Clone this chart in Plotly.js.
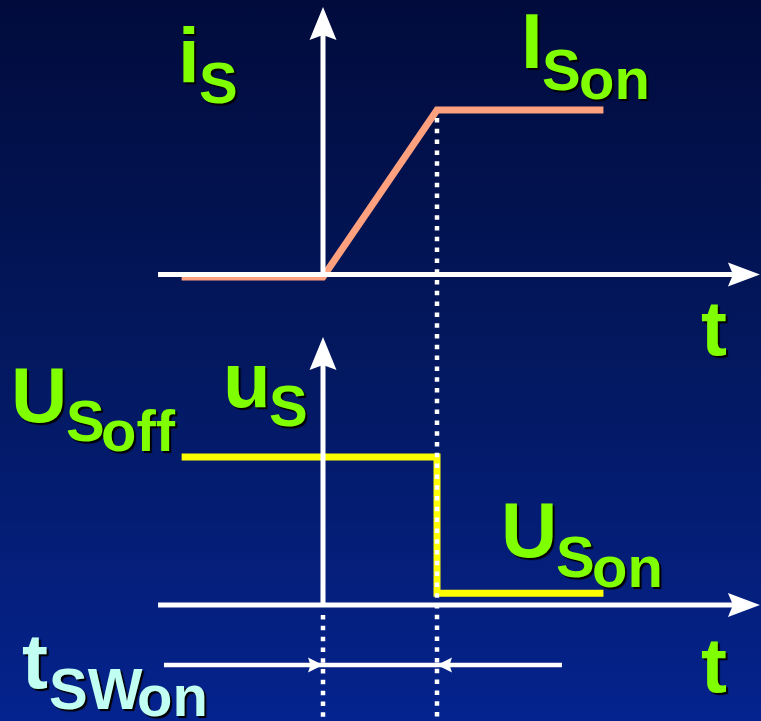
<!DOCTYPE html>
<html><head><meta charset="utf-8">
<script src="https://cdn.plot.ly/plotly-3.0.1.min.js"></script>
<style>
html,body{margin:0;padding:0;width:761px;height:721px;overflow:hidden;
background:linear-gradient(to bottom,#010b3c 0%,#03185f 50%,#05238e 100%);}
#chart{width:761px;height:721px;}
</style></head><body><div id="chart"></div>
<script>
// ---- data (time in units of t_SW,on : 0 = switching starts, 1 = switching ends) ----
const tCurrent = [-1.24, 0, 1, 2.46];
const iCurrent = [0, 0, 1, 1];            // i_S normalised to I_S,on
const tVoltage = [-1.24, 1, 1, 2.46];
const uVoltage = [1, 1, 0.08, 0.08];      // u_S normalised to U_S,off
const tSwitchOn = [0, 1];                 // start / end of t_SW,on

// ---- label texts ----
const lblCurrent   = ['i', 'S'];
const lblCurrentOn = ['I', 'S', 'on'];
const lblVoltage   = ['u', 'S'];
const lblVoltOff   = ['U', 'S', 'off'];
const lblVoltOn    = ['U', 'S', 'on'];
const lblTime      = ['t'];
const lblSwitch    = ['t', 'SW', 'on'];

// ---- styling / layout ----
const W = 761, H = 721;
const GREEN = '#80ff00', CYAN = '#c0fff2', WHITE = '#ffffff';
const M = 78, S = 58;
const FAM = '"Liberation Sans", Arial, sans-serif';

function piece(text, glyphLeft, baseline, size, color, lsb) {
  return {
    text: text, xref: 'paper', yref: 'paper',
    x: (glyphLeft - lsb * size) / W,
    y: 1 - (baseline + 0.212 * size + 1) / H,
    xanchor: 'left', yanchor: 'bottom', showarrow: false, borderpad: 0,
    font: {family: FAM, size: size, color: color, weight: 700, shadow: '2px 2px 1px #000000'}
  };
}

const annotations = [
  piece(lblCurrent[0], 182, 83, M, GREEN, 0.068),
  piece(lblCurrent[1], 200, 103, S, GREEN, 0.04),
  piece(lblCurrentOn[0], 525, 68, M, GREEN, 0.07),
  piece(lblCurrentOn[1], 543, 90, S, GREEN, 0.04),
  piece(lblCurrentOn[2], 580, 99, S, GREEN, 0.04),
  piece(lblTime[0], 702, 355, M, GREEN, 0.02),
  piece(lblVoltage[0], 227, 407, M, GREEN, 0.065),
  piece(lblVoltage[1], 270, 426, S, GREEN, 0.04),
  piece(lblVoltOff[0], 15, 422, M, GREEN, 0.07),
  piece(lblVoltOff[1], 67, 441, S, GREEN, 0.04),
  piece(lblVoltOff[2], 102, 451, S, GREEN, 0.04),
  piece(lblVoltOn[0], 505, 557, M, GREEN, 0.07),
  piece(lblVoltOn[1], 557, 577, S, GREEN, 0.04),
  piece(lblVoltOn[2], 593, 587, S, GREEN, 0.04),
  piece(lblTime[0], 702, 692, M, GREEN, 0.02),
  piece(lblSwitch[0], 23, 688, M, CYAN, 0.02),
  piece(lblSwitch[1], 50, 709, S, CYAN, 0.04),
  piece(lblSwitch[2], 138, 716, S, CYAN, 0.04)
];

// ---- axes (lines + arrowheads, in data coordinates; heads sized in pixels) ----
const axStart = -1.447, axEnd = 3.833, iAxis = 0.015;
const iTip = 1.617, uTip = 1.811, swY = -0.4054;
const pxT = 1 / 114, pxI = 1 / 167, pxU = 1 / 148;

function line(x0, y0, x1, y1, yref, width, dash) {
  return {type: 'line', xref: 'x', yref: yref, x0: x0, y0: y0, x1: x1, y1: y1,
    line: {color: WHITE, width: width, dash: dash || 'solid'}, layer: 'above'};
}
function head(xa, ya, yref, path) {
  return {type: 'path', xref: 'x', yref: yref, xsizemode: 'pixel', ysizemode: 'pixel',
    xanchor: xa, yanchor: ya, path: path, fillcolor: WHITE,
    line: {width: 0, color: WHITE}, layer: 'above'};
}
const HEAD_RIGHT = 'M0,0 L-32,12 L-27,0 L-32,-12 Z';
const HEAD_UP    = 'M0,0 L13.5,-33 L0,-28 L-13.5,-33 Z';
const SMALL_RIGHT = 'M0,0 L-15,7.5 L-12.5,0 L-15,-7.5 Z';
const SMALL_LEFT  = 'M0,0 L15,7.5 L12.5,0 L15,-7.5 Z';

const dotted = '4.5px,6.3px';
const shapes = [
  // top plot axes
  line(axStart, iAxis, axEnd - 20 * pxT, iAxis, 'y', 5),
  head(axEnd, iAxis, 'y', HEAD_RIGHT),
  line(tSwitchOn[0], iAxis, tSwitchOn[0], iTip - 20 * pxI, 'y', 5),
  head(tSwitchOn[0], iTip, 'y', HEAD_UP),
  // bottom plot axes
  line(axStart, 0, axEnd - 20 * pxT, 0, 'y2', 5),
  head(axEnd, 0, 'y2', HEAD_RIGHT),
  line(tSwitchOn[0], 0, tSwitchOn[0], uTip - 20 * pxU, 'y2', 5),
  head(tSwitchOn[0], uTip, 'y2', HEAD_UP),
  // switching-time dimension
  line(-1.395, swY, 2.096, swY, 'y2', 4.5),
  head(tSwitchOn[0], swY, 'y2', SMALL_RIGHT),
  head(tSwitchOn[1], swY, 'y2', SMALL_LEFT),
  // dotted markers
  line(tSwitchOn[0], -0.068, tSwitchOn[0], -0.79, 'y2', 4.5, dotted),
  line(tSwitchOn[1], 0.952, tSwitchOn[1], -2.67, 'y', 4.5, dotted)
];

const traces = [
  {x: tCurrent, y: iCurrent, type: 'scatter', mode: 'lines', yaxis: 'y',
   line: {color: '#ffa07e', width: 7}, hoverinfo: 'skip'},
  {x: tVoltage, y: uVoltage, type: 'scatter', mode: 'lines', yaxis: 'y2',
   line: {color: '#ffff00', width: 7}, hoverinfo: 'skip'}
];

const layout = {
  width: W, height: H, margin: {l: 0, r: 0, t: 0, b: 0, pad: 0},
  paper_bgcolor: 'rgba(0,0,0,0)', plot_bgcolor: 'rgba(0,0,0,0)',
  showlegend: false,
  xaxis: {range: [-323 / 114, 438 / 114], visible: false, fixedrange: true},
  yaxis: {range: [-444 / 167, 277 / 167], visible: false, fixedrange: true},
  yaxis2: {range: [-116 / 148, 605 / 148], visible: false, overlaying: 'y', fixedrange: true},
  annotations: annotations, shapes: shapes
};

Plotly.newPlot('chart', traces, layout, {displayModeBar: false, staticPlot: true});
</script></body></html>
